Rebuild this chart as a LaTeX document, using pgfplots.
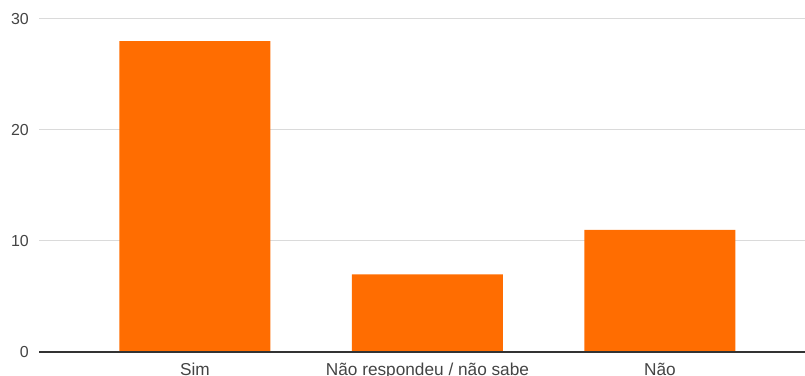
\documentclass[border=0pt]{standalone}
\usepackage{pgfplots}
\pgfplotsset{compat=1.18}
\usepackage{fontspec}
\setmainfont{Liberation Sans}
\definecolor{barorange}{HTML}{FF6D01}
\definecolor{labelgray}{HTML}{444444}
\definecolor{gridgray}{HTML}{DADADA}
\definecolor{axisdark}{HTML}{333333}
\begin{document}
\begin{tikzpicture}
\begin{axis}[
  at={(0,0)}, anchor=south west,
  scale only axis,
  width=766bp, height=333bp,
  xmin=-0.671, xmax=2.624,
  ymin=0, ymax=30,
  ytick={0,10,20,30},
  xtick=data,
  xticklabels={Sim, Não respondeu / não sabe, Não},
  axis line style={draw=none},
  ymajorgrids,
  grid style={gridgray, line width=1bp},
  major tick length=0pt,
  tick style={draw=none},
  clip=false,
  font=\fontsize{16}{19}\selectfont,
  /pgf/number format/assume math mode=true,
  ticklabel style={text=labelgray, font=\fontsize{16}{19}\selectfont},
  yticklabel style={anchor=east, inner sep=0pt, xshift=-10bp},
  xticklabel style={anchor=base, inner sep=0pt, yshift=-23bp,
                    font=\fontsize{17.3}{20}\selectfont},
]
\addplot[ybar, bar width=151bp, fill=barorange, draw=none] coordinates {
  (0,28) (1,7) (2,11)
};
\draw[axisdark, line width=1.3bp] (rel axis cs:0,0) -- (rel axis cs:1,0);
\end{axis}
\pgfresetboundingbox
\useasboundingbox (-39bp,-24bp) rectangle (766bp,352bp);
\end{tikzpicture}
\end{document}
